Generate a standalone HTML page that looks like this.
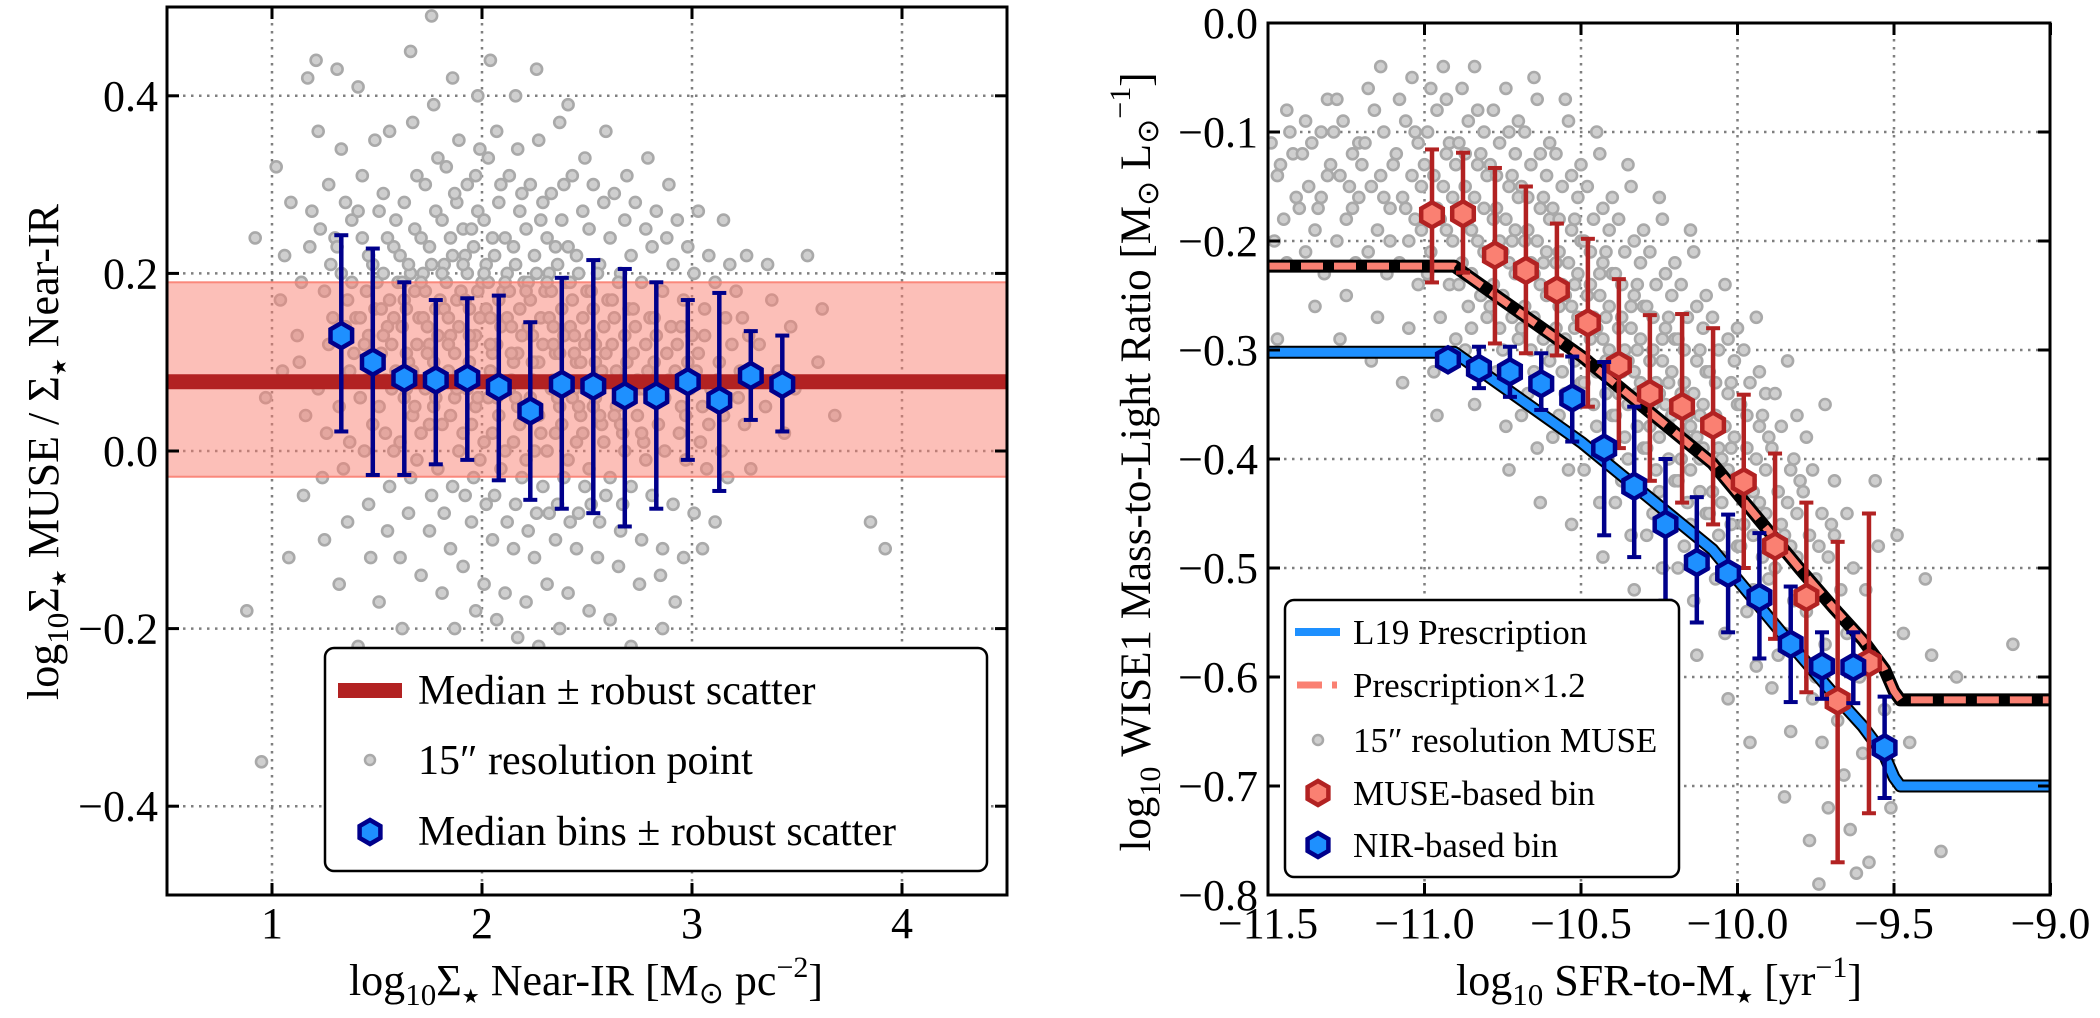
<!DOCTYPE html>
<html><head><meta charset="utf-8"><style>
html,body{margin:0;padding:0;background:#fff;}
svg{display:block;font-family:"Liberation Serif","DejaVu Serif",serif;}
</style></head><body>
<svg id="fig" xmlns="http://www.w3.org/2000/svg" width="2100" height="1018" viewBox="0 0 2100 1018">
<defs>
<clipPath id="clipL"><rect x="167" y="7" width="840" height="888"/></clipPath>
<clipPath id="clipR"><rect x="1268" y="23" width="782" height="872"/></clipPath>
</defs>
<g id="left"></g>
<g id="right"></g>

<text x="586" y="995" font-size="44" text-anchor="middle">log<tspan font-size="31" dy="10">10</tspan><tspan dy="-10">Σ</tspan><tspan font-size="20" dy="8" font-family="DejaVu Sans">★</tspan><tspan dy="-8"> Near-IR [M</tspan><tspan font-size="30" dy="8" font-family="DejaVu Sans">⊙</tspan><tspan dy="-8"> pc</tspan><tspan font-size="30" dy="-18">−2</tspan><tspan dy="18">]</tspan></text>
<text transform="translate(58,452) rotate(-90)" font-size="44" text-anchor="middle">log<tspan font-size="31" dy="10">10</tspan><tspan dy="-10">Σ</tspan><tspan font-size="20" dy="8" font-family="DejaVu Sans">★</tspan><tspan dy="-8"> MUSE / Σ</tspan><tspan font-size="20" dy="8" font-family="DejaVu Sans">★</tspan><tspan dy="-8"> Near-IR</tspan></text>
<text x="1659" y="995" font-size="44" text-anchor="middle">log<tspan font-size="31" dy="10">10</tspan><tspan dy="-10"> SFR-to-M</tspan><tspan font-size="20" dy="8" font-family="DejaVu Sans">★</tspan><tspan dy="-8"> [yr</tspan><tspan font-size="30" dy="-18">−1</tspan><tspan dy="18">]</tspan></text>
<text transform="translate(1150,462) rotate(-90)" font-size="43" text-anchor="middle">log<tspan font-size="30" dy="10">10</tspan><tspan dy="-10"> WISE1 Mass-to-Light Ratio [M</tspan><tspan font-size="30" dy="8" font-family="DejaVu Sans">⊙</tspan><tspan dy="-8"> L</tspan><tspan font-size="30" dy="8" font-family="DejaVu Sans">⊙</tspan><tspan font-size="30" dy="-28">−1</tspan><tspan dy="20">]</tspan></text>
</svg>
<script>
// ---------- DATA ----------
const leftXTicks=[1,2,3,4];
const leftYTicks=[-0.4,-0.2,0.0,0.2,0.4];
const leftYTickLabels=["−0.4","−0.2","0.0","0.2","0.4"];
const leftMedian=[0.078];
const leftScatterBand=[-0.029,0.190];
const leftBinX=[1.33,1.48,1.63,1.78,1.93,2.08,2.23,2.38,2.53,2.68,2.83,2.98,3.13,3.28,3.43];
const leftBinY=[0.13,0.10,0.082,0.080,0.082,0.072,0.045,0.075,0.073,0.062,0.062,0.078,0.057,0.085,0.075];
const leftBinHi=[0.243,0.228,0.19,0.17,0.172,0.175,0.145,0.195,0.215,0.205,0.19,0.17,0.178,0.135,0.13];
const leftBinLo=[0.022,-0.027,-0.027,-0.015,-0.01,-0.033,-0.055,-0.065,-0.07,-0.085,-0.065,-0.01,-0.045,0.035,0.022];
const leftPoints=[[0.88,-0.18],[0.92,0.24],[0.95,-0.35],[0.97,0.06],
[1.02,0.32],[1.04,0.17],[1.06,0.22],[1.08,-0.12],[1.05,0.09],[1.09,0.28],
[1.12,0.13],[1.14,0.19],[1.16,0.04],[1.18,0.23],[1.15,-0.05],[1.19,0.27],[1.13,0.1],[1.17,0.42],
[1.21,0.44],[1.23,0.25],[1.25,0.18],[1.27,0.12],[1.22,0.07],[1.26,0.02],[1.28,0.21],[1.24,-0.03],[1.29,0.15],[1.22,0.36],[1.27,0.3],[1.25,-0.1],[1.3,0.24],
[1.31,0.43],[1.33,0.2],[1.35,0.14],[1.37,0.09],[1.32,0.05],[1.36,0.17],[1.38,0.26],[1.34,-0.02],[1.39,0.11],[1.31,0.23],[1.36,-0.08],[1.38,0.19],[1.33,0.34],[1.35,0.28],[1.37,0.01],[1.4,0.15],[1.32,-0.15],
[1.41,0.41],[1.43,0.24],[1.45,0.18],[1.47,0.1],[1.42,0.06],[1.46,0.13],[1.48,0.21],[1.44,0.0],[1.49,0.16],[1.41,0.27],[1.46,-0.06],[1.48,0.03],[1.43,0.31],[1.45,0.08],[1.47,-0.12],[1.5,0.19],[1.42,0.15],[1.44,0.12],[1.49,0.35],[1.46,0.22],[1.41,-0.22],
[1.51,0.27],[1.53,0.2],[1.55,0.14],[1.57,0.07],[1.52,0.11],[1.56,0.17],[1.58,0.23],[1.54,0.02],[1.59,0.09],[1.51,0.05],[1.56,-0.04],[1.58,0.15],[1.53,0.29],[1.55,-0.09],[1.57,0.12],[1.6,0.19],[1.52,0.16],[1.54,0.08],[1.59,0.26],[1.56,0.36],[1.51,-0.17],[1.58,0.0],[1.53,0.13],[1.55,0.24],
[1.61,0.22],[1.63,0.17],[1.65,0.1],[1.67,0.04],[1.62,0.14],[1.66,0.2],[1.68,0.25],[1.64,0.07],[1.69,0.12],[1.61,0.01],[1.66,-0.03],[1.68,0.18],[1.63,0.28],[1.65,-0.07],[1.67,0.09],[1.7,0.15],[1.62,0.19],[1.64,0.11],[1.69,0.31],[1.66,0.45],[1.61,-0.12],[1.68,0.05],[1.63,0.06],[1.65,0.21],[1.67,0.37],[1.62,-0.2],[1.64,0.16],[1.69,-0.01],
[1.71,0.24],[1.73,0.18],[1.75,0.12],[1.77,0.05],[1.72,0.15],[1.76,0.21],[1.78,0.27],[1.74,0.08],[1.79,0.13],[1.71,0.02],[1.76,-0.05],[1.78,0.16],[1.73,0.3],[1.75,-0.09],[1.77,0.1],[1.8,0.17],[1.72,0.2],[1.74,0.11],[1.79,0.33],[1.76,0.49],[1.71,-0.14],[1.78,0.06],[1.73,0.07],[1.75,0.23],[1.77,0.39],[1.72,-0.25],[1.74,0.14],[1.79,-0.02],[1.75,0.03],[1.71,0.19],
[1.81,0.26],[1.83,0.19],[1.85,0.13],[1.87,0.06],[1.82,0.16],[1.86,0.22],[1.88,0.28],[1.84,0.09],[1.89,0.14],[1.81,0.03],[1.86,-0.04],[1.88,0.17],[1.83,0.32],[1.85,-0.11],[1.87,0.11],[1.9,0.18],[1.82,0.21],[1.84,0.12],[1.89,0.35],[1.86,0.42],[1.81,-0.16],[1.88,0.07],[1.83,0.08],[1.85,0.24],[1.87,-0.2],[1.82,-0.07],[1.84,0.15],[1.89,0.0],[1.85,0.04],[1.81,0.2],[1.87,0.29],[1.83,-0.3],
[1.91,0.25],[1.93,0.2],[1.95,0.12],[1.97,0.05],[1.92,0.17],[1.96,0.23],[1.98,0.27],[1.94,0.1],[1.99,0.15],[1.91,0.02],[1.96,-0.03],[1.98,0.18],[1.93,0.3],[1.95,-0.08],[1.97,0.13],[2.0,0.19],[1.92,0.22],[1.94,0.13],[1.99,0.34],[1.96,0.08],[1.91,-0.13],[1.98,0.06],[1.93,0.07],[1.95,0.25],[1.97,-0.18],[1.92,-0.05],[1.94,0.16],[1.99,-0.01],[1.95,0.03],[1.91,0.21],[1.97,0.31],[1.93,-0.24],[1.98,0.4],[1.94,-0.42],
[2.01,0.26],[2.03,0.19],[2.05,0.11],[2.07,0.06],[2.02,0.16],[2.06,0.22],[2.08,0.28],[2.04,0.09],[2.09,0.14],[2.01,0.01],[2.06,-0.05],[2.08,0.17],[2.03,0.33],[2.05,-0.1],[2.07,0.12],[2.1,0.18],[2.02,0.21],[2.04,0.12],[2.09,0.3],[2.06,0.07],[2.01,-0.15],[2.08,0.04],[2.03,0.06],[2.05,0.24],[2.07,-0.19],[2.02,-0.06],[2.04,0.15],[2.09,-0.02],[2.05,0.02],[2.01,0.2],[2.07,0.36],[2.03,-0.27],[2.08,-0.33],[2.04,0.44],
[2.11,0.24],[2.13,0.18],[2.15,0.1],[2.17,0.05],[2.12,0.15],[2.16,0.21],[2.18,0.27],[2.14,0.08],[2.19,0.13],[2.11,0.0],[2.16,-0.06],[2.18,0.16],[2.13,0.31],[2.15,-0.11],[2.17,0.11],[2.2,0.19],[2.12,0.2],[2.14,0.11],[2.19,0.29],[2.16,0.06],[2.11,-0.16],[2.18,0.03],[2.13,0.07],[2.15,0.23],[2.17,-0.21],[2.12,-0.08],[2.14,0.14],[2.19,-0.03],[2.15,0.01],[2.11,0.19],[2.17,0.34],[2.13,-0.29],[2.18,-0.38],[2.16,0.4],
[2.21,0.25],[2.23,0.17],[2.25,0.1],[2.27,0.04],[2.22,0.14],[2.26,0.2],[2.28,0.26],[2.24,0.08],[2.29,0.12],[2.21,-0.01],[2.26,-0.07],[2.28,0.15],[2.23,0.3],[2.25,-0.12],[2.27,0.1],[2.3,0.18],[2.22,0.19],[2.24,0.1],[2.29,0.28],[2.26,0.05],[2.21,-0.17],[2.28,0.02],[2.23,0.06],[2.25,0.22],[2.27,-0.22],[2.22,-0.09],[2.24,0.13],[2.29,-0.04],[2.25,0.0],[2.21,0.18],[2.27,0.35],[2.23,-0.32],[2.28,-0.45],[2.26,0.43],
[2.31,0.24],[2.33,0.18],[2.35,0.11],[2.37,0.05],[2.32,0.15],[2.36,0.21],[2.38,0.26],[2.34,0.08],[2.39,0.13],[2.31,0.0],[2.36,-0.06],[2.38,0.16],[2.33,0.29],[2.35,-0.1],[2.37,0.11],[2.4,0.19],[2.32,0.2],[2.34,0.12],[2.39,0.3],[2.36,0.06],[2.31,-0.15],[2.38,0.03],[2.33,0.07],[2.35,0.23],[2.37,-0.2],[2.32,-0.07],[2.34,0.14],[2.39,-0.03],[2.35,0.02],[2.31,0.19],[2.37,0.37],[2.33,-0.26],
[2.41,0.23],[2.43,0.17],[2.45,0.1],[2.47,0.04],[2.42,0.14],[2.46,0.2],[2.48,0.27],[2.44,0.07],[2.49,0.12],[2.41,-0.01],[2.46,-0.07],[2.48,0.15],[2.43,0.31],[2.45,-0.11],[2.47,0.1],[2.5,0.18],[2.42,0.19],[2.44,0.11],[2.49,0.33],[2.46,0.05],[2.41,-0.16],[2.48,0.02],[2.43,0.06],[2.45,0.22],[2.47,-0.23],[2.42,-0.08],[2.44,0.13],[2.49,-0.04],[2.45,0.01],[2.41,0.39],
[2.51,0.25],[2.53,0.16],[2.55,0.09],[2.57,0.03],[2.52,0.13],[2.56,0.21],[2.58,0.28],[2.54,0.06],[2.59,0.11],[2.51,-0.02],[2.56,-0.08],[2.58,0.14],[2.53,0.3],[2.55,-0.12],[2.57,0.09],[2.6,0.17],[2.52,0.18],[2.54,0.1],[2.59,0.36],[2.56,0.04],[2.51,-0.18],[2.58,0.01],[2.53,0.05],[2.55,0.2],[2.57,-0.25],[2.52,-0.06],[2.54,0.12],[2.59,-0.05],
[2.61,0.24],[2.63,0.15],[2.65,0.08],[2.67,0.02],[2.62,0.12],[2.66,0.2],[2.68,0.26],[2.64,0.05],[2.69,0.1],[2.61,-0.03],[2.66,-0.09],[2.68,0.13],[2.63,0.29],[2.65,-0.13],[2.67,0.08],[2.7,0.16],[2.62,0.17],[2.64,0.09],[2.69,0.31],[2.66,0.03],[2.61,-0.19],[2.68,0.0],[2.63,0.04],[2.65,0.19],[2.67,-0.06],
[2.71,0.22],[2.73,0.14],[2.75,0.07],[2.77,0.01],[2.72,0.11],[2.76,0.19],[2.78,0.25],[2.74,0.04],[2.79,0.09],[2.71,-0.04],[2.76,-0.1],[2.78,0.12],[2.73,0.28],[2.75,-0.15],[2.77,0.07],[2.8,0.15],[2.72,0.16],[2.74,0.08],[2.79,0.33],[2.76,0.02],[2.71,-0.22],[2.78,-0.01],
[2.81,0.23],[2.83,0.13],[2.85,0.06],[2.87,0.0],[2.82,0.1],[2.86,0.18],[2.88,0.24],[2.84,0.03],[2.89,0.08],[2.81,-0.05],[2.86,-0.11],[2.88,0.11],[2.83,0.27],[2.85,-0.14],[2.87,0.06],[2.9,0.14],[2.82,0.15],[2.84,0.07],[2.89,0.3],[2.86,-0.2],
[2.91,0.21],[2.93,0.12],[2.95,0.05],[2.97,-0.01],[2.92,0.09],[2.96,0.17],[2.98,0.23],[2.94,0.02],[2.99,0.07],[2.91,-0.06],[2.96,-0.12],[2.98,0.1],[2.93,0.26],[2.95,0.14],[2.97,0.04],[3.0,0.13],[2.92,-0.17],
[3.01,0.2],[3.03,0.11],[3.05,0.05],[3.07,-0.02],[3.02,0.09],[3.06,0.16],[3.08,0.22],[3.04,0.01],[3.09,0.07],[3.01,-0.07],[3.06,0.13],[3.03,0.27],[3.05,-0.11],[3.08,0.03],
[3.11,0.19],[3.13,0.1],[3.15,0.04],[3.17,-0.03],[3.12,0.08],[3.16,0.15],[3.18,0.21],[3.14,0.0],[3.19,0.12],[3.11,-0.08],[3.15,0.26],
[3.21,0.18],[3.23,0.09],[3.25,0.03],[3.27,0.13],[3.22,0.06],[3.26,0.22],[3.28,-0.02],[3.24,0.15],
[3.32,0.12],[3.35,0.05],[3.38,0.17],[3.41,0.09],[3.44,0.02],[3.47,0.14],[3.36,0.21],[3.49,0.07],
[3.55,0.22],[3.6,0.1],[3.68,0.04],[3.85,-0.08],[3.92,-0.11],[3.62,0.16]];

const rightXTicks=[-11.5,-11.0,-10.5,-10.0,-9.5,-9.0];
const rightXTickLabels=["−11.5","−11.0","−10.5","−10.0","−9.5","−9.0"];
const rightYTicks=[0.0,-0.1,-0.2,-0.3,-0.4,-0.5,-0.6,-0.7,-0.8];
const rightYTickLabels=["0.0","−0.1","−0.2","−0.3","−0.4","−0.5","−0.6","−0.7","−0.8"];
const prescX=[-11.5,-10.905,-10.497,-10.08,-9.8,-9.695,-9.6,-9.53,-9.5,-9.48,-9.0];
const prescL19=[-0.302,-0.302,-0.385,-0.483,-0.58,-0.615,-0.645,-0.672,-0.692,-0.700,-0.700];
const prescBoost=[0.079];
const museBinX=[-10.976,-10.877,-10.775,-10.676,-10.577,-10.478,-10.379,-10.28,-10.177,-10.078,-9.98,-9.88,-9.78,-9.68,-9.58];
const museBinY=[-0.176,-0.175,-0.213,-0.227,-0.245,-0.275,-0.314,-0.340,-0.352,-0.369,-0.421,-0.48,-0.527,-0.622,-0.587];
const museBinHi=[-0.116,-0.119,-0.133,-0.150,-0.184,-0.198,-0.235,-0.268,-0.267,-0.280,-0.341,-0.395,-0.44,-0.476,-0.45];
const museBinLo=[-0.238,-0.229,-0.294,-0.303,-0.305,-0.352,-0.39,-0.42,-0.44,-0.46,-0.50,-0.565,-0.614,-0.77,-0.725];
const nirBinX=[-10.925,-10.826,-10.727,-10.627,-10.528,-10.426,-10.33,-10.23,-10.13,-10.03,-9.93,-9.83,-9.73,-9.63,-9.53];
const nirBinY=[-0.309,-0.317,-0.32,-0.331,-0.344,-0.39,-0.425,-0.46,-0.495,-0.505,-0.527,-0.57,-0.59,-0.591,-0.665];
const nirBinHi=[-0.302,-0.297,-0.297,-0.303,-0.306,-0.311,-0.352,-0.40,-0.435,-0.451,-0.468,-0.517,-0.559,-0.559,-0.618];
const nirBinLo=[-0.316,-0.335,-0.343,-0.355,-0.384,-0.47,-0.49,-0.53,-0.55,-0.559,-0.583,-0.623,-0.62,-0.624,-0.711];
const rightPoints=[[-11.49,-0.11],[-11.47,-0.14],[-11.45,-0.18],[-11.43,-0.1],[-11.41,-0.16],[-11.48,-0.2],[-11.46,-0.13],[-11.44,-0.22],[-11.42,-0.12],[-11.4,-0.17],[-11.47,-0.29],[-11.44,-0.08],
[-11.39,-0.12],[-11.37,-0.15],[-11.35,-0.19],[-11.33,-0.1],[-11.31,-0.14],[-11.38,-0.21],[-11.36,-0.11],[-11.34,-0.17],[-11.32,-0.23],[-11.3,-0.13],[-11.38,-0.09],[-11.35,-0.26],[-11.33,-0.16],[-11.31,-0.07],
[-11.29,-0.1],[-11.27,-0.14],[-11.25,-0.18],[-11.23,-0.12],[-11.21,-0.16],[-11.28,-0.2],[-11.26,-0.09],[-11.24,-0.15],[-11.22,-0.22],[-11.2,-0.13],[-11.28,-0.07],[-11.25,-0.25],[-11.23,-0.17],[-11.21,-0.11],[-11.27,-0.29],
[-11.19,-0.11],[-11.17,-0.15],[-11.15,-0.19],[-11.13,-0.1],[-11.11,-0.17],[-11.18,-0.21],[-11.16,-0.08],[-11.14,-0.14],[-11.12,-0.23],[-11.1,-0.13],[-11.18,-0.06],[-11.15,-0.27],[-11.13,-0.16],[-11.11,-0.2],[-11.17,-0.31],[-11.14,-0.04],
[-11.09,-0.12],[-11.07,-0.16],[-11.05,-0.2],[-11.03,-0.1],[-11.01,-0.15],[-11.08,-0.22],[-11.06,-0.09],[-11.04,-0.14],[-11.02,-0.24],[-11.0,-0.13],[-11.08,-0.07],[-11.05,-0.28],[-11.03,-0.18],[-11.01,-0.19],[-11.07,-0.33],[-11.04,-0.05],[-11.06,-0.17],[-11.02,-0.11],
[-10.99,-0.1],[-10.97,-0.14],[-10.95,-0.18],[-10.93,-0.12],[-10.91,-0.16],[-10.98,-0.21],[-10.96,-0.08],[-10.94,-0.15],[-10.92,-0.24],[-10.9,-0.13],[-10.98,-0.06],[-10.95,-0.27],[-10.93,-0.19],[-10.91,-0.2],[-10.97,-0.32],[-10.94,-0.04],[-10.96,-0.17],[-10.92,-0.11],[-10.99,-0.23],[-10.93,-0.07],[-10.9,-0.29],[-10.96,-0.36],
[-10.89,-0.11],[-10.87,-0.15],[-10.85,-0.19],[-10.83,-0.13],[-10.81,-0.17],[-10.88,-0.22],[-10.86,-0.09],[-10.84,-0.16],[-10.82,-0.25],[-10.8,-0.14],[-10.88,-0.06],[-10.85,-0.28],[-10.83,-0.2],[-10.81,-0.21],[-10.87,-0.3],[-10.84,-0.04],[-10.86,-0.18],[-10.82,-0.12],[-10.89,-0.24],[-10.83,-0.08],[-10.8,-0.27],[-10.85,-0.23],[-10.87,-0.12],[-10.81,-0.1],[-10.84,-0.35],[-10.86,-0.26],
[-10.79,-0.13],[-10.77,-0.17],[-10.75,-0.21],[-10.73,-0.15],[-10.71,-0.19],[-10.78,-0.24],[-10.76,-0.11],[-10.74,-0.18],[-10.72,-0.27],[-10.7,-0.16],[-10.78,-0.08],[-10.75,-0.3],[-10.73,-0.22],[-10.71,-0.23],[-10.77,-0.32],[-10.74,-0.06],[-10.76,-0.2],[-10.72,-0.14],[-10.79,-0.26],[-10.73,-0.1],[-10.7,-0.29],[-10.75,-0.25],[-10.77,-0.14],[-10.71,-0.12],[-10.74,-0.37],[-10.76,-0.28],[-10.72,-0.2],[-10.78,-0.18],[-10.7,-0.09],[-10.73,-0.41],
[-10.69,-0.15],[-10.67,-0.19],[-10.65,-0.23],[-10.63,-0.17],[-10.61,-0.21],[-10.68,-0.26],[-10.66,-0.13],[-10.64,-0.2],[-10.62,-0.29],[-10.6,-0.18],[-10.68,-0.1],[-10.65,-0.32],[-10.63,-0.24],[-10.61,-0.25],[-10.67,-0.34],[-10.64,-0.07],[-10.66,-0.22],[-10.62,-0.16],[-10.69,-0.28],[-10.63,-0.12],[-10.6,-0.31],[-10.65,-0.27],[-10.67,-0.16],[-10.61,-0.14],[-10.64,-0.39],[-10.66,-0.3],[-10.62,-0.22],[-10.68,-0.2],[-10.6,-0.11],[-10.63,-0.44],[-10.65,-0.05],[-10.69,-0.36],
[-10.59,-0.17],[-10.57,-0.21],[-10.55,-0.25],[-10.53,-0.19],[-10.51,-0.23],[-10.58,-0.28],[-10.56,-0.15],[-10.54,-0.22],[-10.52,-0.31],[-10.5,-0.2],[-10.58,-0.12],[-10.55,-0.34],[-10.53,-0.26],[-10.51,-0.27],[-10.57,-0.36],[-10.54,-0.09],[-10.56,-0.24],[-10.52,-0.18],[-10.59,-0.3],[-10.53,-0.14],[-10.5,-0.33],[-10.55,-0.29],[-10.57,-0.18],[-10.51,-0.16],[-10.54,-0.41],[-10.56,-0.32],[-10.52,-0.24],[-10.58,-0.22],[-10.5,-0.13],[-10.53,-0.46],[-10.55,-0.07],[-10.59,-0.38],[-10.52,-0.28],[-10.57,-0.26],
[-10.49,-0.2],[-10.47,-0.24],[-10.45,-0.28],[-10.43,-0.22],[-10.41,-0.26],[-10.48,-0.31],[-10.46,-0.18],[-10.44,-0.25],[-10.42,-0.34],[-10.4,-0.23],[-10.48,-0.15],[-10.45,-0.37],[-10.43,-0.29],[-10.41,-0.3],[-10.47,-0.39],[-10.44,-0.12],[-10.46,-0.27],[-10.42,-0.21],[-10.49,-0.33],[-10.43,-0.17],[-10.4,-0.36],[-10.45,-0.32],[-10.47,-0.21],[-10.41,-0.19],[-10.44,-0.44],[-10.46,-0.35],[-10.42,-0.27],[-10.48,-0.25],[-10.4,-0.16],[-10.43,-0.49],[-10.45,-0.1],[-10.49,-0.41],[-10.42,-0.31],[-10.47,-0.29],[-10.44,-0.23],[-10.41,-0.56],
[-10.39,-0.23],[-10.37,-0.27],[-10.35,-0.31],[-10.33,-0.25],[-10.31,-0.29],[-10.38,-0.34],[-10.36,-0.21],[-10.34,-0.28],[-10.32,-0.37],[-10.3,-0.26],[-10.38,-0.18],[-10.35,-0.4],[-10.33,-0.32],[-10.31,-0.33],[-10.37,-0.42],[-10.34,-0.15],[-10.36,-0.3],[-10.32,-0.24],[-10.39,-0.36],[-10.33,-0.2],[-10.3,-0.39],[-10.35,-0.35],[-10.37,-0.24],[-10.31,-0.22],[-10.34,-0.47],[-10.36,-0.38],[-10.32,-0.3],[-10.38,-0.28],[-10.3,-0.19],[-10.33,-0.52],[-10.35,-0.13],[-10.39,-0.44],[-10.32,-0.34],[-10.37,-0.32],[-10.34,-0.26],[-10.31,-0.6],
[-10.29,-0.26],[-10.27,-0.3],[-10.25,-0.34],[-10.23,-0.28],[-10.21,-0.32],[-10.28,-0.37],[-10.26,-0.24],[-10.24,-0.31],[-10.22,-0.4],[-10.2,-0.29],[-10.28,-0.21],[-10.25,-0.43],[-10.23,-0.35],[-10.21,-0.36],[-10.27,-0.45],[-10.24,-0.18],[-10.26,-0.33],[-10.22,-0.27],[-10.29,-0.39],[-10.23,-0.23],[-10.2,-0.42],[-10.25,-0.38],[-10.27,-0.27],[-10.21,-0.25],[-10.24,-0.5],[-10.26,-0.41],[-10.22,-0.33],[-10.28,-0.31],[-10.2,-0.22],[-10.23,-0.55],[-10.25,-0.16],[-10.29,-0.47],[-10.22,-0.37],[-10.27,-0.35],[-10.24,-0.29],[-10.21,-0.63],
[-10.19,-0.29],[-10.17,-0.33],[-10.15,-0.37],[-10.13,-0.31],[-10.11,-0.35],[-10.18,-0.4],[-10.16,-0.27],[-10.14,-0.34],[-10.12,-0.43],[-10.1,-0.32],[-10.18,-0.24],[-10.15,-0.46],[-10.13,-0.38],[-10.11,-0.39],[-10.17,-0.48],[-10.14,-0.21],[-10.16,-0.36],[-10.12,-0.3],[-10.19,-0.42],[-10.13,-0.26],[-10.1,-0.45],[-10.15,-0.41],[-10.17,-0.3],[-10.11,-0.28],[-10.14,-0.53],[-10.16,-0.44],[-10.12,-0.36],[-10.18,-0.34],[-10.1,-0.25],[-10.13,-0.58],[-10.15,-0.19],[-10.19,-0.5],[-10.12,-0.4],[-10.17,-0.38],
[-10.09,-0.32],[-10.07,-0.36],[-10.05,-0.4],[-10.03,-0.34],[-10.01,-0.38],[-10.08,-0.43],[-10.06,-0.3],[-10.04,-0.37],[-10.02,-0.46],[-10.0,-0.35],[-10.08,-0.27],[-10.05,-0.49],[-10.03,-0.41],[-10.01,-0.42],[-10.07,-0.51],[-10.04,-0.24],[-10.06,-0.39],[-10.02,-0.33],[-10.09,-0.45],[-10.03,-0.29],[-10.0,-0.48],[-10.05,-0.44],[-10.07,-0.33],[-10.01,-0.31],[-10.04,-0.56],[-10.06,-0.47],[-10.02,-0.39],[-10.08,-0.37],[-10.0,-0.28],[-10.03,-0.62],
[-9.99,-0.35],[-9.97,-0.39],[-9.95,-0.43],[-9.93,-0.37],[-9.91,-0.41],[-9.98,-0.46],[-9.96,-0.33],[-9.94,-0.4],[-9.92,-0.49],[-9.9,-0.38],[-9.98,-0.3],[-9.95,-0.52],[-9.93,-0.44],[-9.91,-0.45],[-9.97,-0.54],[-9.94,-0.27],[-9.96,-0.42],[-9.92,-0.36],[-9.99,-0.48],[-9.93,-0.32],[-9.9,-0.51],[-9.95,-0.47],[-9.97,-0.36],[-9.91,-0.34],[-9.94,-0.59],[-9.96,-0.66],
[-9.89,-0.39],[-9.87,-0.43],[-9.85,-0.47],[-9.83,-0.41],[-9.81,-0.45],[-9.88,-0.5],[-9.86,-0.37],[-9.84,-0.44],[-9.82,-0.53],[-9.8,-0.42],[-9.88,-0.34],[-9.85,-0.56],[-9.83,-0.48],[-9.81,-0.49],[-9.87,-0.58],[-9.84,-0.31],[-9.86,-0.46],[-9.82,-0.4],[-9.89,-0.61],[-9.83,-0.65],[-9.85,-0.71],[-9.81,-0.36],
[-9.79,-0.43],[-9.77,-0.47],[-9.75,-0.51],[-9.73,-0.45],[-9.71,-0.49],[-9.78,-0.54],[-9.76,-0.41],[-9.74,-0.48],[-9.72,-0.57],[-9.7,-0.46],[-9.78,-0.38],[-9.75,-0.6],[-9.73,-0.66],[-9.71,-0.72],[-9.77,-0.75],[-9.74,-0.79],[-9.76,-0.62],[-9.72,-0.35],
[-9.69,-0.47],[-9.67,-0.52],[-9.65,-0.56],[-9.63,-0.5],[-9.61,-0.6],[-9.68,-0.64],[-9.66,-0.69],[-9.64,-0.74],[-9.62,-0.78],[-9.69,-0.42],[-9.65,-0.45],[-9.6,-0.67],
[-9.59,-0.52],[-9.57,-0.58],[-9.55,-0.48],[-9.53,-0.63],[-9.51,-0.72],[-9.58,-0.77],[-9.49,-0.47],[-9.47,-0.56],[-9.45,-0.66],[-9.56,-0.42],
[-9.38,-0.58],[-9.3,-0.6],[-9.12,-0.57],[-9.4,-0.51],[-9.35,-0.76]];

// ---------- HELPERS ----------
const NS="http://www.w3.org/2000/svg";
function mk(parent,tag,attrs){const e=document.createElementNS(NS,tag);for(const k in attrs)e.setAttribute(k,attrs[k]);parent.appendChild(e);return e;}
const LX=v=>167+(v-0.5)*210, LY=v=>451-v*888;
const RX=v=>1268+(v+11.5)*313, RY=v=>23-v*1090;
function hexPts(cx,cy,r){let s=[];for(let i=0;i<6;i++){const a=Math.PI/2+i*Math.PI/3;s.push((cx+r*Math.cos(a)).toFixed(1)+","+(cy-r*Math.sin(a)).toFixed(1));}return s.join(" ");}
const GRID="#7f7f7f";

function frameAndGrid(g,x0,y0,x1,y1,xg,yg){
  xg.forEach(x=>{const l=mk(g,'line',{x1:x,y1:y0,x2:x,y2:y1,stroke:GRID,'stroke-width':2.5,'stroke-dasharray':'2.5 5.5'});
    
    });
  yg.forEach(y=>{const l=mk(g,'line',{x1:x0,y1:y,x2:x1,y2:y,stroke:GRID,'stroke-width':2.5,'stroke-dasharray':'2.5 5.5'});
    
    });
}
function ticksFrame(g,x0,y0,x1,y1,xt,yt){
  xt.forEach(x=>{mk(g,'line',{x1:x,y1:y1,x2:x,y2:y1-12,stroke:'#000','stroke-width':3});mk(g,'line',{x1:x,y1:y0,x2:x,y2:y0+12,stroke:'#000','stroke-width':3});});
  yt.forEach(y=>{mk(g,'line',{x1:x0,y1:y,x2:x0+12,y2:y,stroke:'#000','stroke-width':3});mk(g,'line',{x1:x1,y1:y,x2:x1-12,y2:y,stroke:'#000','stroke-width':3});});
  const f=mk(g,'rect',{x:x0,y:y0,width:x1-x0,height:y1-y0,fill:'none',stroke:'#000','stroke-width':3});
  
  
}
function scatter(g,pts,fx,fy,clip){
  const sg=mk(g,'g',{'clip-path':'url(#'+clip+')'});
  
  
  pts.forEach(p=>{const c=mk(sg,'circle',{cx:fx(p[0]).toFixed(1),cy:fy(p[1]).toFixed(1),r:5.5,fill:'#cfcfcf',stroke:'#a9a9a9','stroke-width':2.6});
    
    });
}
function bins(g,xs,ys,lo,hi,fx,fy,ecol,fcol,name){
  const bg=mk(g,'g',{});
  
  
  xs.forEach((x,i)=>{const X=fx(x);
    mk(bg,'line',{x1:X,y1:fy(lo[i]),x2:X,y2:fy(hi[i]),stroke:ecol,'stroke-width':4.5});
    mk(bg,'line',{x1:X-7,y1:fy(lo[i]),x2:X+7,y2:fy(lo[i]),stroke:ecol,'stroke-width':4});
    mk(bg,'line',{x1:X-7,y1:fy(hi[i]),x2:X+7,y2:fy(hi[i]),stroke:ecol,'stroke-width':4});});
  xs.forEach((x,i)=>{const h=mk(bg,'polygon',{points:hexPts(fx(x),fy(ys[i]),12.5),fill:fcol,stroke:ecol,'stroke-width':4.5});
    
    });
}
function tickLabelsX(g,vals,labels,fx,y){vals.forEach((v,i)=>{const t=mk(g,'text',{x:fx(v),y:y,'font-size':44,'text-anchor':'middle'});t.textContent=labels[i];
  
  });}
function tickLabelsY(g,vals,labels,fy,x){vals.forEach((v,i)=>{const t=mk(g,'text',{x:x,y:fy(v)+15,'font-size':44,'text-anchor':'end'});t.textContent=labels[i];
  
  });}

// ---------- LEFT ----------
const L=document.getElementById('left');
frameAndGrid(L,167,7,1007,895,leftXTicks.map(LX),leftYTicks.map(LY));
scatter(L,leftPoints,LX,LY,'clipL');
const band=mk(L,'rect',{x:167,y:LY(leftScatterBand[1]),width:840,height:LY(leftScatterBand[0])-LY(leftScatterBand[1]),fill:'rgba(250,128,114,0.5)',stroke:'rgba(250,128,114,0.9)','stroke-width':2});


const med=mk(L,'line',{x1:167,y1:LY(leftMedian[0]),x2:1007,y2:LY(leftMedian[0]),stroke:'#b22222','stroke-width':15});


bins(L,leftBinX,leftBinY,leftBinLo,leftBinHi,LX,LY,'#00008b','#1e90ff','median-bins');
ticksFrame(L,167,7,1007,895,leftXTicks.map(LX),leftYTicks.map(LY));
tickLabelsX(L,leftXTicks,leftXTicks.map(String),LX,938);
tickLabelsY(L,leftYTicks,leftYTickLabels,LY,158);
const lg=mk(L,'g',{});


mk(lg,'rect',{x:325,y:648,width:662,height:223,rx:9,fill:'#fff',stroke:'#000','stroke-width':2.5});
mk(lg,'rect',{x:338,y:683,width:64,height:15,fill:'#b22222'});
mk(lg,'circle',{cx:370,cy:760,r:5,fill:'#cfcfcf',stroke:'#a9a9a9','stroke-width':2.5});
mk(lg,'polygon',{points:hexPts(370,832,12),fill:'#1e90ff',stroke:'#00008b','stroke-width':4.5});
[["Median ± robust scatter",704],["15″ resolution point",774],["Median bins ± robust scatter",845]].forEach(r=>{
  const t=mk(lg,'text',{x:418,y:r[1],'font-size':42});t.textContent=r[0];
  
  });

// ---------- RIGHT ----------
const R=document.getElementById('right');
frameAndGrid(R,1268,23,2050,895,[-11,-10.5,-10,-9.5].map(RX),[-0.1,-0.2,-0.3,-0.4,-0.5,-0.6,-0.7].map(RY));
scatter(R,rightPoints,RX,RY,'clipR');
const lg2=mk(R,'g',{'clip-path':'url(#clipR)'});
const pL19=prescX.map((x,i)=>RX(x).toFixed(1)+","+RY(prescL19[i]).toFixed(1)).join(" ");
const pBoost=prescX.map((x,i)=>RX(x).toFixed(1)+","+RY(prescL19[i]+prescBoost[0]).toFixed(1)).join(" ");
mk(lg2,'polyline',{points:pL19,fill:'none',stroke:'#000','stroke-width':13,'stroke-linejoin':'round'});
const bl=mk(lg2,'polyline',{points:pL19,fill:'none',stroke:'#1e90ff','stroke-width':9,'stroke-linejoin':'round'});


mk(lg2,'polyline',{points:pBoost,fill:'none',stroke:'#000','stroke-width':13,'stroke-linejoin':'round'});
const rl=mk(lg2,'polyline',{points:pBoost,fill:'none',stroke:'#fa8072','stroke-width':7,'stroke-dasharray':'22 11','stroke-linejoin':'round'});


bins(R,museBinX,museBinY,museBinLo,museBinHi,RX,RY,'#b22222','#fa8072','muse-bins');
bins(R,nirBinX,nirBinY,nirBinLo,nirBinHi,RX,RY,'#00008b','#1e90ff','nir-bins');
ticksFrame(R,1268,23,2050,895,rightXTicks.map(RX),rightYTicks.map(RY));
tickLabelsX(R,rightXTicks,rightXTickLabels,RX,938);
tickLabelsY(R,rightYTicks,rightYTickLabels,RY,1258);
const rg=mk(R,'g',{});


mk(rg,'rect',{x:1285,y:600,width:394,height:277,rx:9,fill:'#fff',stroke:'#000','stroke-width':2.5});
mk(rg,'line',{x1:1295,y1:632,x2:1340,y2:632,stroke:'#1e90ff','stroke-width':8});
mk(rg,'line',{x1:1297,y1:685,x2:1322,y2:685,stroke:'#fa8072','stroke-width':7});
mk(rg,'line',{x1:1332,y1:685,x2:1337,y2:685,stroke:'#fa8072','stroke-width':7});
mk(rg,'circle',{cx:1318,cy:740,r:5,fill:'#cfcfcf',stroke:'#a9a9a9','stroke-width':2.5});
mk(rg,'polygon',{points:hexPts(1318,793,12),fill:'#fa8072',stroke:'#b22222','stroke-width':4.5});
mk(rg,'polygon',{points:hexPts(1318,845,12),fill:'#1e90ff',stroke:'#00008b','stroke-width':4.5});
[["L19 Prescription",644],["Prescription×1.2",697],["15″ resolution MUSE",752],["MUSE-based bin",805],["NIR-based bin",857]].forEach(r=>{
  const t=mk(rg,'text',{x:1353,y:r[1],'font-size':35});t.textContent=r[0];
  
  });
</script>
</body></html>
